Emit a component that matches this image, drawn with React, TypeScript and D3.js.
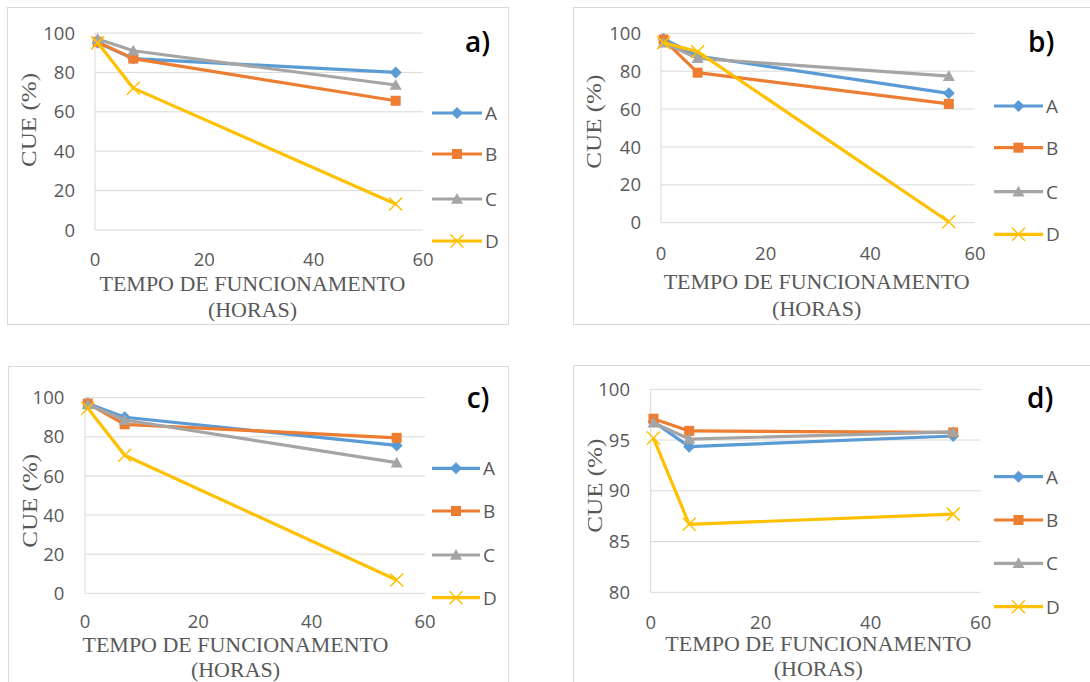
import React from "react";
import * as d3 from "d3";

// ---------- data ----------
const hours = [0.5, 7, 55];
const seriesNames = ["A", "B", "C", "D"];
const seriesColors = ["#5B9BD5", "#ED7D31", "#A5A5A5", "#FFC000"];
const markerShapes = ["diamond", "square", "triangle", "x"];
const panelLabels = ["a)", "b)", "c)", "d)"];
const xTicks = [0, 20, 40, 60];
const yTicks100 = [0, 20, 40, 60, 80, 100];
const yTicksD = [80, 85, 90, 95, 100];
const xTitleLine1 = "TEMPO DE FUNCIONAMENTO";
const xTitleLine2 = "(HORAS)";
const yTitle = "CUE (%)";

const aA = [95, 87, 80];
const aB = [95.5, 87, 65.6];
const aC = [97, 91, 73.6];
const aD = [95, 72, 13.2];

const bA = [97, 88, 68.3];
const bB = [96.7, 79.2, 62.7];
const bC = [95, 86.8, 77.4];
const bD = [95, 90.3, 0.5];

const cA = [97, 90, 75.6];
const cB = [97, 86.4, 79.5];
const cC = [96.5, 88.6, 66.8];
const cD = [94.6, 70.6, 6.8];

const dA = [96.8, 94.35, 95.4];
const dB = [97.1, 95.9, 95.75];
const dC = [96.7, 95.1, 95.8];
const dD = [95.2, 86.7, 87.7];

const panelSeries = [
  [aA, aB, aC, aD],
  [bA, bB, bC, bD],
  [cA, cB, cC, cD],
  [dA, dB, dC, dD],
];
const panelYTicks = [yTicks100, yTicks100, yTicks100, yTicksD];

// ---------- layout ----------
const layouts = [
  {
    frame: { x: 7.5, y: 7.5, w: 501, h: 317 },
    plot: { x0: 95, x1: 423, yTop: 33, yBot: 230 },
    yLabelRight: 75, xTickY: 259.5,
    titleX: 252.5, titleY1: 283.5, titleY2: 310,
    yTitleX: 28.5, yTitleY: 120,
    legX1: 432, legX2: 482, legRows: [113, 154, 199, 241],
    label: { x: 465, y: 52 },
  },
  {
    frame: { x: 573.5, y: 7.5, w: 530, h: 317 },
    plot: { x0: 661, x1: 975, yTop: 33.3, yBot: 222.7 },
    yLabelRight: 641, xTickY: 253.5,
    titleX: 816.7, titleY1: 282, titleY2: 308.3,
    yTitleX: 594, yTitleY: 121.7,
    legX1: 994, legX2: 1043, legRows: [106, 147.7, 191.7, 234.3],
    label: { x: 1028, y: 52 },
  },
  {
    frame: { x: 8.5, y: 366.5, w: 500, h: 340 },
    plot: { x0: 85, x1: 425, yTop: 397.7, yBot: 593.3 },
    yLabelRight: 64.3, xTickY: 621.5,
    titleX: 235.5, titleY1: 644.5, titleY2: 670,
    yTitleX: 29.3, yTitleY: 500.8,
    legX1: 432, legX2: 480, legRows: [468.3, 511, 555, 597.7],
    label: { x: 466.7, y: 408 },
  },
  {
    frame: { x: 573.5, y: 365.5, w: 530, h: 340 },
    plot: { x0: 650.7, x1: 980.7, yTop: 389.3, yBot: 592.3 },
    yLabelRight: 630, xTickY: 622,
    titleX: 818.3, titleY1: 643.5, titleY2: 668.5,
    yTitleX: 595, yTitleY: 485.7,
    legX1: 994, legX2: 1043, legRows: [476.7, 520, 563.3, 606.7],
    label: { x: 1027, y: 408 },
  },
];

const SANS = "'Open Sans', 'Liberation Sans', sans-serif";
const SERIF = "'Liberation Serif', 'DejaVu Serif', serif";
const TEXT = "#595959";
const GRID = "#D9D9D9";
const TICK_FS = 18.5;

function Marker({ shape, x, y, color }: { shape: string; x: number; y: number; color: string }) {
  if (shape === "diamond") {
    const r = 6;
    return <path d={`M${x},${y - r}L${x + r},${y}L${x},${y + r}L${x - r},${y}Z`} fill={color} />;
  }
  if (shape === "square") {
    const r = 5;
    return <rect x={x - r} y={y - r} width={2 * r} height={2 * r} fill={color} />;
  }
  if (shape === "triangle") {
    const r = 6;
    return <path d={`M${x},${y - r}L${x + r},${y + r * 0.8}L${x - r},${y + r * 0.8}Z`} fill={color} />;
  }
  const r = 6.5;
  return (
    <path
      d={`M${x - r},${y - r}L${x + r},${y + r}M${x + r},${y - r}L${x - r},${y + r}`}
      stroke={color}
      strokeWidth={1.5}
      fill="none"
    />
  );
}

function Panel({ idx }: { idx: number }) {
  const L = layouts[idx];
  const yTicks = panelYTicks[idx];
  const series = panelSeries[idx];
  const x = d3.scaleLinear().domain([0, 60]).range([L.plot.x0, L.plot.x1]);
  const y = d3
    .scaleLinear()
    .domain([yTicks[0], yTicks[yTicks.length - 1]])
    .range([L.plot.yBot, L.plot.yTop]);
  const line = d3
    .line<number>()
    .x((_, i) => x(hours[i]))
    .y((v) => y(v));

  return (
    <g>
      <rect
        x={L.frame.x}
        y={L.frame.y}
        width={L.frame.w}
        height={L.frame.h}
        fill="#fff"
        stroke={GRID}
        strokeWidth={1}
      />
      {yTicks.map((t) => (
        <line key={"g" + t} x1={L.plot.x0} x2={L.plot.x1} y1={y(t)} y2={y(t)} stroke={GRID} strokeWidth={1} />
      ))}
      <line x1={L.plot.x0} x2={L.plot.x0} y1={L.plot.yTop} y2={L.plot.yBot} stroke={GRID} strokeWidth={1} />
      {yTicks.map((t) => (
        <text
          key={"yl" + t}
          x={L.yLabelRight}
          y={y(t) + 6.6}
          textAnchor="end"
          fontFamily={SANS}
          fontSize={TICK_FS}
          fill={TEXT}
        >
          {t}
        </text>
      ))}
      {xTicks.map((t) => (
        <text
          key={"xl" + t}
          x={x(t)}
          y={L.xTickY + 6.6}
          textAnchor="middle"
          fontFamily={SANS}
          fontSize={TICK_FS}
          fill={TEXT}
        >
          {t}
        </text>
      ))}
      <text
        x={L.titleX}
        y={L.titleY1 + 7}
        textAnchor="middle"
        fontFamily={SERIF}
        fontSize={20.5}
        fill={TEXT}
        textLength={306}
        lengthAdjust="spacingAndGlyphs"
      >
        {xTitleLine1}
      </text>
      <text
        x={L.titleX}
        y={L.titleY2 + 7.3}
        textAnchor="middle"
        fontFamily={SERIF}
        fontSize={22}
        fill={TEXT}
      >
        {xTitleLine2}
      </text>
      <text
        transform={`translate(${L.yTitleX + 7.3},${L.yTitleY}) rotate(-90)`}
        textAnchor="middle"
        fontFamily={SERIF}
        fontSize={22}
        fill={TEXT}
        textLength={94}
        lengthAdjust="spacingAndGlyphs"
      >
        {yTitle}
      </text>
      {series.map((vals, si) => (
        <g key={"s" + si}>
          <path d={line(vals) || ""} fill="none" stroke={seriesColors[si]} strokeWidth={3.2} strokeLinejoin="round" />
          {vals.map((v, i) => (
            <Marker key={i} shape={markerShapes[si]} x={x(hours[i])} y={y(v)} color={seriesColors[si]} />
          ))}
        </g>
      ))}
      {seriesNames.map((name, si) => {
        const ry = L.legRows[si];
        const mx = (L.legX1 + L.legX2) / 2;
        return (
          <g key={"lg" + si}>
            <line x1={L.legX1} x2={L.legX2} y1={ry} y2={ry} stroke={seriesColors[si]} strokeWidth={3.2} />
            <Marker shape={markerShapes[si]} x={mx} y={ry} color={seriesColors[si]} />
            <text x={L.legX2 + 3} y={ry + 6.8} fontFamily={SANS} fontSize={19} fill={TEXT}>
              {name}
            </text>
          </g>
        );
      })}
      <text x={L.label.x} y={L.label.y} fontFamily={SANS} fontSize={28} fontWeight={600} fill="#000">
        {panelLabels[idx]}
      </text>
    </g>
  );
}

export default function App() {
  return (
    <svg
      width={1090}
      height={682}
      style={{ position: "absolute", left: 0, top: 0, background: "#fff" }}
    >
      <rect x={0} y={0} width={1090} height={682} fill="#fff" />
      {[0, 1, 2, 3].map((i) => (
        <Panel key={i} idx={i} />
      ))}
    </svg>
  );
}
